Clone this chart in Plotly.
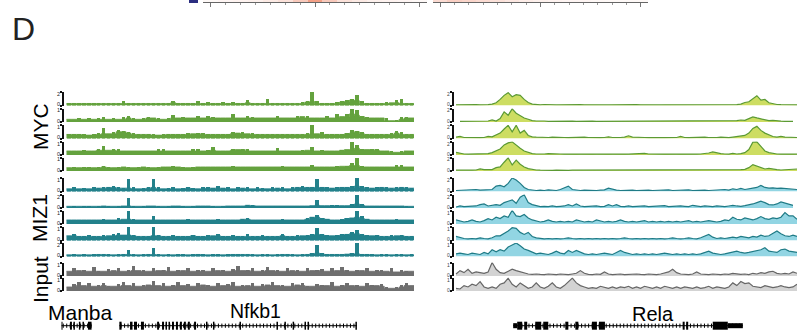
import numpy as np
import plotly.graph_objects as go

W, H = 797, 331

# ---------------------------------------------------------------
# ChIP-seq coverage across the Manba / Nfkb1 locus (2 kb bins)
# ---------------------------------------------------------------
nfkb1_myc_1 = [0.3, 0.3, 0.4, 0.3, 0.3, 0.4, 0.3, 0.3, 0.4, 0.3,
               0.4, 0.6, 0.3, 0.3, 0.4, 0.3, 0.3, 0.4, 0.3, 0.3,
               0.4, 0.7, 0.4, 0.3, 0.3, 0.4, 0.6, 0.3, 0.5, 0.3,
               0.3, 0.5, 0.3, 0.5, 0.3, 0.4, 0.8, 0.4, 0.3, 0.4,
               0.9, 0.3, 0.3, 0.4, 0.3, 0.4, 0.3, 0.5, 0.7, 2.0,
               0.6, 0.3, 0.4, 0.3, 0.5, 0.6, 0.8, 1.0, 1.5, 0.7,
               0.3, 0.3, 0.4, 0.3, 0.5, 0.4, 0.8, 0.9, 0.3, 0.3]
nfkb1_myc_2 = [0.2, 0.2, 0.3, 0.2, 0.3, 0.2, 0.3, 0.4, 0.2, 0.3,
               0.2, 0.4, 0.45, 0.3, 0.2, 0.3, 0.4, 0.3, 0.3, 0.2,
               0.3, 0.55, 0.3, 0.4, 0.3, 0.3, 0.5, 0.3, 0.5, 0.4,
               0.3, 0.3, 0.3, 0.6, 0.3, 0.3, 0.5, 0.4, 0.3, 0.3,
               0.3, 0.3, 0.45, 0.3, 0.3, 0.3, 0.5, 0.4, 0.5, 0.3,
               0.3, 0.3, 0.5, 0.3, 0.6, 0.4, 0.6, 1.0, 0.9, 0.5,
               0.4, 0.3, 0.3, 0.3, 0.3, 0.1, 0.2, 0.4, 0.4, 0.3]
nfkb1_myc_3 = [0.3, 0.35, 0.3, 0.3, 0.25, 0.3, 0.4, 0.8, 0.35, 0.5,
               0.6, 0.55, 0.5, 0.4, 0.3, 0.3, 0.35, 0.3, 0.25, 0.3,
               0.3, 0.3, 0.35, 0.3, 0.4, 0.35, 0.4, 0.4, 0.3, 0.3,
               0.3, 0.3, 0.35, 0.45, 0.4, 0.45, 0.35, 0.4, 0.3, 0.3,
               0.35, 0.3, 0.3, 0.35, 0.3, 0.3, 0.35, 0.3, 0.4, 1.0,
               0.35, 0.5, 0.3, 0.3, 0.3, 0.35, 0.4, 0.6, 0.55, 0.5,
               0.35, 0.3, 0.3, 0.35, 0.3, 0.4, 0.55, 0.5, 0.3, 0.3]
nfkb1_myc_4 = [0.3, 0.35, 0.3, 0.4, 0.3, 0.35, 0.5, 0.7, 0.35, 0.5,
               0.45, 0.3, 0.35, 0.3, 0.35, 0.3, 0.3, 0.3, 0.5, 0.45,
               0.3, 0.3, 0.35, 0.3, 0.3, 0.5, 0.45, 0.3, 0.4, 0.6,
               0.35, 0.3, 0.35, 0.5, 0.4, 0.5, 0.45, 0.3, 0.35, 0.3,
               0.3, 0.3, 0.55, 0.3, 0.35, 0.3, 0.3, 0.4, 0.35, 0.65,
               0.3, 0.4, 0.35, 0.3, 0.35, 0.4, 0.4, 1.0, 0.8, 0.5,
               0.4, 0.5, 0.45, 0.35, 0.3, 0.3, 0.2, 0.3, 0.35, 0.3]
nfkb1_myc_5 = [0.25, 0.3, 0.25, 0.3, 0.35, 0.25, 0.3, 0.4, 0.3, 0.25,
               0.35, 0.3, 0.3, 0.25, 0.3, 0.35, 0.3, 0.25, 0.3, 0.35,
               0.3, 0.4, 0.3, 0.3, 0.25, 0.35, 0.3, 0.3, 0.35, 0.3,
               0.3, 0.35, 0.3, 0.4, 0.3, 0.3, 0.35, 0.3, 0.3, 0.3,
               0.35, 0.3, 0.3, 0.4, 0.3, 0.3, 0.35, 0.3, 0.35, 0.5,
               0.3, 0.35, 0.3, 0.3, 0.4, 0.35, 0.4, 0.6, 1.0, 0.4,
               0.3, 0.3, 0.35, 0.3, 0.3, 0.3, 0.45, 0.45, 0.3, 0.3]
nfkb1_miz1_1 = [0.2, 0.3, 0.2, 0.25, 0.2, 0.3, 0.25, 0.3, 0.35, 0.4,
                0.3, 0.25, 0.9, 0.3, 0.2, 0.25, 0.3, 0.9, 0.3, 0.2,
                0.25, 0.3, 0.2, 0.25, 0.3, 0.25, 0.2, 0.3, 0.35, 0.25,
                0.4, 0.25, 0.3, 0.2, 0.3, 0.25, 0.3, 0.2, 0.3, 0.25,
                0.2, 0.3, 0.25, 0.3, 0.2, 0.3, 0.3, 0.4, 0.35, 0.3,
                0.95, 0.35, 0.3, 0.25, 0.3, 0.35, 0.3, 0.4, 1.0, 0.4,
                0.3, 0.25, 0.3, 0.35, 0.3, 0.25, 0.3, 0.35, 0.3, 0.25]
nfkb1_miz1_2 = [0.25, 0.3, 0.25, 0.3, 0.3, 0.25, 0.3, 0.35, 0.3, 0.25,
                0.3, 0.35, 1.6, 0.3, 0.25, 0.3, 0.4, 0.35, 0.3, 0.25,
                0.3, 0.3, 0.35, 0.3, 0.25, 0.3, 0.3, 0.35, 0.3, 0.3,
                0.25, 0.3, 0.35, 0.3, 0.3, 0.4, 0.5, 0.55, 0.35, 0.3,
                0.3, 0.35, 0.4, 0.3, 0.3, 0.35, 0.3, 0.3, 0.35, 0.4,
                1.2, 0.4, 0.35, 0.5, 0.5, 0.35, 0.4, 0.6, 2.0, 0.6,
                0.4, 0.3, 0.35, 0.3, 0.3, 0.35, 0.4, 0.3, 0.3, 0.25]
nfkb1_miz1_3 = [0.3, 0.35, 0.3, 0.3, 0.35, 0.3, 0.35, 0.4, 0.3, 0.3,
                0.5, 0.35, 1.0, 0.4, 0.3, 0.35, 0.3, 0.6, 0.35, 0.3,
                0.35, 0.3, 0.3, 0.35, 0.4, 0.3, 0.35, 0.3, 0.35, 0.3,
                0.4, 0.3, 0.35, 0.3, 0.35, 0.4, 0.45, 0.35, 0.3, 0.3,
                0.35, 0.3, 0.35, 0.4, 0.3, 0.35, 0.3, 0.35, 0.5, 0.55,
                0.7, 0.5, 0.4, 0.35, 0.3, 0.4, 0.45, 0.5, 1.0, 0.6,
                0.4, 0.35, 0.3, 0.35, 0.3, 0.35, 0.4, 0.3, 0.35, 0.3]
nfkb1_miz1_4 = [0.35, 0.5, 0.35, 0.3, 0.4, 0.35, 0.3, 0.4, 0.35, 0.5,
                0.55, 0.4, 1.0, 0.4, 0.35, 0.3, 0.35, 1.0, 0.4, 0.35,
                0.3, 0.4, 0.35, 0.3, 0.35, 0.4, 0.35, 0.3, 0.4, 0.35,
                0.45, 0.35, 0.3, 0.4, 0.35, 0.3, 0.45, 0.35, 0.3, 0.4,
                0.35, 0.3, 0.35, 0.45, 0.35, 0.3, 0.4, 0.35, 0.4, 0.5,
                0.9, 0.45, 0.4, 0.35, 0.4, 0.45, 0.5, 0.6, 0.75, 0.5,
                0.4, 0.35, 0.4, 0.35, 0.3, 0.4, 0.35, 0.4, 0.35, 0.3]
nfkb1_miz1_5 = [0.25, 0.3, 0.25, 0.3, 0.25, 0.3, 0.3, 0.35, 0.3, 0.25,
                0.3, 0.3, 1.0, 0.3, 0.25, 0.3, 0.3, 1.3, 0.3, 0.25,
                0.3, 0.25, 0.3, 0.3, 0.25, 0.3, 0.35, 0.3, 0.25, 0.3,
                0.3, 0.25, 0.3, 0.35, 0.3, 0.3, 0.4, 0.3, 0.25, 0.3,
                0.3, 0.25, 0.3, 0.35, 0.3, 0.3, 0.25, 0.3, 0.4, 0.5,
                1.7, 0.5, 0.35, 0.3, 0.3, 0.35, 0.4, 0.5, 2.0, 0.4,
                0.3, 0.3, 0.25, 0.3, 0.3, 0.25, 0.3, 0.3, 0.25, 0.3]
nfkb1_input_1 = [0.35, 0.6, 0.4, 0.5, 0.35, 0.7, 0.4, 0.35, 0.55, 0.4,
                 0.6, 0.35, 0.45, 0.8, 0.4, 0.5, 0.35, 0.6, 0.4, 0.45,
                 0.7, 0.35, 0.5, 0.4, 0.6, 0.35, 0.5, 0.45, 0.35, 0.65,
                 0.4, 0.5, 0.35, 0.55, 0.8, 0.4, 0.45, 0.6, 0.35, 0.5,
                 0.7, 0.4, 0.45, 0.35, 0.6, 0.4, 0.5, 0.35, 0.65, 0.4,
                 0.5, 0.55, 0.35, 0.6, 0.4, 0.7, 0.45, 0.35, 0.5, 0.4,
                 0.6, 0.35, 0.5, 0.45, 0.35, 0.6, 0.3, 0.5, 0.4, 0.35]
nfkb1_input_2 = [0.3, 0.55, 0.7, 0.4, 0.6, 0.35, 0.5, 0.65, 0.4, 0.35,
                 0.55, 0.7, 0.4, 0.6, 0.35, 0.5, 0.45, 0.8, 0.4, 0.6,
                 0.35, 0.5, 0.7, 0.4, 0.55, 0.35, 0.6, 0.45, 0.5, 0.35,
                 0.65, 0.4, 0.55, 0.7, 0.35, 0.5, 0.4, 0.6, 0.35, 0.55,
                 0.45, 0.7, 0.4, 0.5, 0.35, 0.6, 0.45, 0.65, 0.4, 0.35,
                 0.55, 0.5, 0.4, 0.7, 0.35, 0.5, 0.6, 0.4, 0.45, 0.35,
                 0.6, 0.5, 0.4, 0.55, 0.35, 0.2, 0.3, 0.5, 0.6, 0.4]

# ---------------------------------------------------------------
# ChIP-seq coverage across the Rela locus (0.4 kb steps)
# ---------------------------------------------------------------
rela_myc_1 = [0.1, 0.12, 0.1, 0.08, 0.1, 0.12, 0.1, 0.08, 0.12, 0.2,
              0.4, 0.9, 1.5, 1.9, 1.3, 1.6, 1.5, 0.9, 0.45, 0.2,
              0.12, 0.1, 0.15, 0.1, 0.12, 0.08, 0.1, 0.12, 0.1, 0.08,
              0.1, 0.12, 0.1, 0.08, 0.1, 0.1, 0.12, 0.1, 0.08, 0.1,
              0.12, 0.1, 0.1, 0.08, 0.1, 0.12, 0.1, 0.08, 0.1, 0.12,
              0.1, 0.08, 0.1, 0.1, 0.12, 0.1, 0.08, 0.1, 0.12, 0.1,
              0.08, 0.1, 0.12, 0.1, 0.1, 0.08, 0.1, 0.12, 0.1, 0.15,
              0.12, 0.2, 0.45, 0.55, 1.0, 1.45, 0.8, 0.9, 0.4, 0.25,
              0.15, 0.12, 0.1, 0.12, 0.1, 0.1]
rela_myc_2 = [None, 0.1, 0.12, 0.1, 0.1, 0.12, 0.15, 0.12, 0.15, 0.3,
              0.15, 0.5, 1.5, 1.0, 1.95, 1.3, 0.9, 0.6, 0.4, 0.2,
              0.15, 0.2, 0.15, 0.1, 0.12, 0.1, 0.12, 0.15, 0.1, 0.12,
              0.1, 0.12, 0.1, 0.2, 0.12, 0.1, 0.1, 0.12, 0.1, 0.12,
              0.1, 0.12, 0.1, 0.1, 0.15, 0.1, 0.12, 0.1, 0.1, 0.12,
              0.1, 0.12, 0.15, 0.1, 0.1, 0.12, 0.1, 0.1, 0.12, 0.1,
              0.12, 0.1, 0.1, 0.15, 0.1, 0.12, 0.1, 0.15, 0.12, 0.15,
              0.2, 0.3, 0.25, 0.5, 0.75, 0.6, 0.5, 0.3, 0.2, 0.25,
              0.15, 0.12, 0.1, 0.12, 0.1, None]
rela_myc_3 = [0.2, 0.3, 0.15, 0.12, 0.2, 0.15, 0.12, 0.15, 0.3, 0.25,
              0.5, 0.8, 1.4, 1.95, 1.0, 1.95, 0.8, 1.2, 0.45, 0.25,
              0.2, 0.15, 0.12, 0.15, 0.2, 0.15, 0.12, 0.15, 0.12, 0.15,
              0.12, 0.15, 0.2, 0.15, 0.12, 0.15, 0.12, 0.15, 0.25, 0.15,
              0.12, 0.15, 0.2, 0.4, 0.2, 0.15, 0.12, 0.15, 0.12, 0.15,
              0.12, 0.15, 0.12, 0.15, 0.2, 0.15, 0.3, 0.15, 0.12, 0.15,
              0.12, 0.15, 0.2, 0.15, 0.12, 0.15, 0.2, 0.15, 0.12, 0.2,
              0.25, 0.3, 0.45, 0.8, 1.5, 1.8, 1.2, 0.8, 0.55, 0.3,
              0.2, 0.3, 0.2, 0.15, 0.12, 0.15]
rela_myc_4 = [0.4, 0.25, 0.15, 0.12, 0.15, 0.2, 0.15, 0.15, 0.2, 0.35,
              0.6, 0.9, 1.5, 1.8, 1.95, 1.4, 1.0, 0.6, 0.35, 0.2,
              0.15, 0.12, 0.15, 0.2, 0.15, 0.12, 0.15, 0.12, 0.15, 0.12,
              0.15, 0.12, 0.15, 0.2, 0.15, 0.12, 0.15, 0.12, 0.15, 0.12,
              0.15, 0.12, 0.15, 0.12, 0.15, 0.12, 0.2, 0.25, 0.15, 0.12,
              0.15, 0.12, 0.15, 0.12, 0.15, 0.12, 0.15, 0.12, 0.2, 0.15,
              0.12, 0.15, 0.2, 0.3, 0.45, 0.3, 0.2, 0.15, 0.12, 0.25,
              0.15, 0.2, 0.35, 0.8, 1.9, 1.95, 1.2, 0.6, 0.35, 0.2,
              0.15, 0.12, 0.15, 0.12, 0.15, 0.12]
rela_myc_5 = [0.12, 0.1, 0.12, 0.15, 0.12, 0.15, 0.3, 0.2, 0.15, 0.2,
              0.5, 0.6, 1.3, 1.95, 0.9, 1.6, 1.0, 0.6, 0.35, 0.2,
              0.15, 0.12, 0.15, 0.12, 0.1, 0.12, 0.15, 0.12, 0.1, 0.12,
              0.12, 0.1, 0.12, 0.15, 0.12, 0.1, 0.12, 0.1, 0.12, 0.1,
              0.12, 0.1, 0.12, 0.1, 0.12, 0.15, 0.12, 0.1, 0.12, 0.1,
              0.12, 0.1, 0.12, 0.1, 0.12, 0.1, 0.12, 0.15, 0.12, 0.1,
              0.12, 0.1, 0.12, 0.1, 0.12, 0.1, 0.12, 0.1, 0.15, 0.12,
              0.15, 0.2, 0.25, 0.5, 0.95, 0.7, 0.45, 0.3, 0.4, 0.25,
              0.2, 0.15, 0.2, 0.3, 0.25, 0.3]
rela_miz1_1 = [0.15, 0.2, 0.15, 0.2, 0.25, 0.3, 0.2, 0.25, 0.2, 0.3,
               0.8, 0.9, 0.7, 1.2, 2.0, 1.7, 1.2, 0.6, 0.3, 0.2,
               0.15, 0.2, 0.15, 0.25, 0.2, 0.15, 0.3, 0.5, 0.8, 0.3,
               0.2, 0.15, 0.2, 0.15, 0.2, 0.15, 0.2, 0.25, 0.5, 0.3,
               0.2, 0.15, 0.2, 0.15, 0.2, 0.15, 0.2, 0.15, 0.2, 0.15,
               0.2, 0.15, 0.2, 0.25, 0.15, 0.2, 0.15, 0.2, 0.25, 0.15,
               0.2, 0.15, 0.2, 0.15, 0.2, 0.25, 0.2, 0.3, 0.2, 0.4,
               0.3, 0.45, 0.3, 0.35, 0.5, 0.6, 0.9, 0.6, 0.5, 0.55,
               0.45, 0.5, 0.45, 0.35, 0.4, 0.3]
rela_miz1_2 = [0.15, 0.3, 0.2, 0.25, 0.2, 0.3, 0.5, 0.6, 0.3, 0.35,
               0.5, 0.4, 0.8, 1.0, 1.2, 0.7, 1.6, 1.95, 0.8, 0.5,
               0.3, 0.2, 0.25, 0.2, 0.3, 0.2, 0.25, 0.3, 0.5, 0.3,
               0.6, 0.3, 0.2, 0.25, 0.2, 0.3, 0.2, 0.25, 0.5, 0.3,
               0.5, 0.25, 0.2, 0.3, 0.2, 0.25, 0.2, 0.3, 0.2, 0.25,
               0.2, 0.25, 0.35, 0.2, 0.25, 0.2, 0.3, 0.25, 0.2, 0.4,
               0.25, 0.2, 0.3, 0.25, 0.2, 0.3, 0.25, 0.2, 0.3, 0.4,
               0.3, 0.25, 0.35, 0.45, 0.6, 0.8, 1.0, 0.8, 0.5, 0.45,
               0.6, 0.9, 0.7, 0.5, 0.4, None]
rela_miz1_3 = [0.3, 0.2, 0.15, 0.2, 0.3, 0.2, 0.15, 0.25, 0.4, 0.3,
               0.5, 0.4, 0.6, 0.5, 1.0, 0.6, 0.55, 0.7, 0.45, 0.3,
               0.2, 0.15, 0.2, 0.3, 0.2, 0.15, 0.2, 0.15, 0.2, 0.15,
               0.3, 0.2, 0.15, 0.2, 0.15, 0.3, 0.2, 0.15, 0.2, 0.15,
               0.2, 0.3, 0.2, 0.15, 0.2, 0.15, 0.2, 0.25, 0.15, 0.2,
               0.15, 0.2, 0.15, 0.2, 0.15, 0.2, 0.15, 0.2, 0.25, 0.15,
               0.2, 0.15, 0.2, 0.25, 0.2, 0.15, 0.2, 0.3, 0.25, 0.5,
               0.35, 0.3, 0.45, 0.35, 0.3, 0.4, 0.55, 0.4, 0.35, 0.45,
               0.4, 0.5, 0.85, 0.6, 0.6, 0.35]
rela_miz1_4 = [0.3, 0.2, 0.15, 0.12, 0.15, 0.12, 0.2, 0.15, 0.12, 0.2,
               0.35, 0.35, 0.5, 0.7, 0.95, 0.9, 0.6, 0.45, 0.6, 0.3,
               0.2, 0.15, 0.12, 0.15, 0.12, 0.15, 0.12, 0.15, 0.2, 0.15,
               0.12, 0.15, 0.12, 0.15, 0.12, 0.15, 0.12, 0.15, 0.12, 0.15,
               0.12, 0.15, 0.2, 0.15, 0.12, 0.15, 0.12, 0.15, 0.12, 0.15,
               0.12, 0.15, 0.12, 0.15, 0.2, 0.15, 0.12, 0.15, 0.2, 0.15,
               0.12, 0.2, 0.3, 0.45, 0.25, 0.15, 0.2, 0.15, 0.2, 0.25,
               0.2, 0.3, 0.25, 0.2, 0.3, 0.25, 0.4, 0.3, 0.35, 0.5,
               0.7, 0.5, 0.35, 0.3, 0.4, 0.3]
rela_miz1_5 = [0.2, 0.25, 0.2, 0.15, 0.25, 0.2, 0.15, 0.3, 0.2, 0.5,
               0.35, 0.5, 0.4, 0.7, 0.85, 1.0, 0.8, 0.55, 0.45, 0.3,
               0.2, 0.25, 0.2, 0.15, 0.25, 0.4, 0.25, 0.2, 0.45, 0.3,
               0.45, 0.3, 0.2, 0.15, 0.2, 0.15, 0.2, 0.25, 0.2, 0.15,
               0.3, 0.45, 0.3, 0.2, 0.15, 0.2, 0.15, 0.2, 0.15, 0.2,
               0.15, 0.2, 0.25, 0.2, 0.15, 0.2, 0.15, 0.2, 0.15, 0.2,
               0.15, 0.2, 0.3, 0.4, 0.25, 0.2, 0.15, 0.2, 0.25, 0.3,
               0.4, 0.3, 0.25, 0.3, 0.35, 0.45, 0.5, 0.65, 0.4, 0.35,
               0.3, 0.5, 0.55, 0.4, 0.35, 0.3]
rela_input_1 = [0.15, 0.4, 0.25, 0.5, 0.2, 0.3, 0.25, 0.2, 0.3, 1.0,
                0.5, 0.25, 0.2, 0.35, 0.5, 0.4, 0.3, 0.2, 0.15, 0.12,
                0.15, 0.12, 0.1, 0.15, 0.12, 0.1, 0.15, 0.12, 0.1, 0.15,
                0.2, 0.4, 0.2, 0.12, 0.1, 0.15, 0.12, 0.3, 0.15, 0.1,
                0.12, 0.15, 0.1, 0.12, 0.1, 0.15, 0.12, 0.1, 0.15, 0.12,
                0.1, 0.15, 0.2, 0.3, 0.5, 0.25, 0.15, 0.12, 0.1, 0.15,
                0.3, 0.15, 0.12, 0.1, 0.15, 0.12, 0.1, 0.15, 0.12, 0.2,
                0.15, 0.12, 0.15, 0.1, 0.2, 0.15, 0.25, 0.2, 0.3, 0.35,
                0.2, 0.15, 0.2, 0.15, 0.3, 0.2]
rela_input_2 = [0.2, 0.15, 0.4, 0.3, 0.5, 0.4, 0.7, 0.3, 0.2, 0.3,
                0.2, 0.5, 0.6, 0.95, 0.5, 0.3, 0.6, 0.4, 0.2, 0.3,
                0.6, 0.3, 0.2, 0.35, 0.6, 0.3, 0.2, 0.4, 0.7, 0.95,
                0.6, 0.4, 0.3, 0.2, 0.25, 0.2, 0.35, 0.25, 0.2, 0.3,
                0.2, 0.3, 0.25, 0.35, 0.2, 0.3, 0.2, 0.35, 0.25, 0.2,
                0.3, 0.2, 0.35, 0.25, 0.2, 0.3, 0.2, 0.3, 0.25, 0.2,
                0.3, 0.2, 0.25, 0.35, 0.2, 0.3, 0.25, 0.2, 0.3, 0.6,
                0.4, 0.7, 0.55, 0.6, 0.35, 0.3, 0.25, 0.4, 0.3, 0.25,
                0.3, 0.4, 0.3, 0.25, 0.3, 0.5]

# axis maximum of every track, top to bottom
nfkb1_ymax = [2, 1, 1, 1, 1, 1, 2, 1, 1, 2, 1, 1]
rela_ymax = [2, 2, 2, 2, 2, 2, 2, 1, 1, 1, 1, 1]

group_labels = ["MYC", "MIZ1", "Input"]

# gene models: [start, end] in kb from each locus start
manba_span = [-2.0, 10.1]
manba_exons = [[-2.0, -1.6], [1.4, 2.2], [2.8, 3.4], [5.0, 5.6],
               [6.45, 7.05], [8.65, 10.1]]
nfkb1_span = [21.3, 117.0]
nfkb1_exons = [[21.3, 22.2], [25.6, 26.6], [27.2, 28.4], [30.0, 31.2],
               [36.5, 37.3], [38.5, 39.3], [39.9, 40.5], [41.1, 41.7],
               [42.5, 43.3], [44.1, 44.9], [45.7, 46.5], [47.3, 48.1],
               [48.9, 49.7], [51.4, 52.2], [56.2, 56.8], [59.0, 59.6],
               [69.7, 70.3], [84.6, 85.2], [87.8, 88.4], [91.1, 91.7],
               [95.9, 96.5], [97.1, 97.7], [116.4, 117.0]]
rela_span = [5.7, 28.6]
rela_exons = [[6.1, 6.6], [6.8, 7.1], [7.9, 8.5], [8.7, 9.2], [10.9, 11.2],
              [11.9, 12.2], [13.55, 14.05], [14.25, 14.85], [22.6, 22.8],
              [22.95, 23.15], [25.6, 27.1]]
rela_utrs = [[5.7, 6.1], [27.1, 28.6]]

# heat strip values along the bottom edge of the panel above
strip_left = [0.05, 0.08, 0.1, 0.12, 0.18, 0.25, 0.45, 0.8, 0.45, 0.25,
              0.18, 0.12, 0.1, 0.08, 0.05]
strip_right = [0.3, 0.4, 0.35, 0.3, 0.25, 0.2, 0.15, 0.12, 0.1, 0.08,
               0.08, 0.06, 0.05, 0.05, 0.05]

nfkb1_tracks = [nfkb1_myc_1, nfkb1_myc_2, nfkb1_myc_3, nfkb1_myc_4, nfkb1_myc_5,
                nfkb1_miz1_1, nfkb1_miz1_2, nfkb1_miz1_3, nfkb1_miz1_4, nfkb1_miz1_5,
                nfkb1_input_1, nfkb1_input_2]
rela_tracks = [rela_myc_1, rela_myc_2, rela_myc_3, rela_myc_4, rela_myc_5,
               rela_miz1_1, rela_miz1_2, rela_miz1_3, rela_miz1_4, rela_miz1_5,
               rela_input_1, rela_input_2]

# ---------------------------------------------------------------
# layout geometry (pixels)
# ---------------------------------------------------------------
BASELINES = [105.5, 122, 138.5, 155, 171, 191.5, 208, 224, 240.5, 256.5, 276, 291]
TRACK_H = 13.5
LEFT_DOM = (64, 414)
LEFT_RANGE = (-1, 140)
LEFT_BIN = 2.0
RIGHT_DOM = (454, 797)
RIGHT_RANGE = (-0.2, 34.0)
RIGHT_STEP = 0.4
GENE_Y = 325.7
GENE_TOP = 318

FONT = "Liberation Sans, Arial, sans-serif"

left_style = {"MYC": "#64a23e", "MIZ1": "#23818b", "Input": "#6f6f6f"}
right_style = {"MYC": ("#5b9a34", "#cddd62"),
               "MIZ1": ("#1f7b86", "#92d5e3"),
               "Input": ("#666666", "#d3d3d3")}


def group_of(i):
    return "MYC" if i < 5 else ("MIZ1" if i < 10 else "Input")


def px_y(p):
    return 1 - p / H


fig = go.Figure()
layout = {}
annotations = []


def axis_names(n):
    xa = "x" if n == 1 else f"x{n}"
    ya = "y" if n == 1 else f"y{n}"
    xk = "xaxis" if n == 1 else f"xaxis{n}"
    yk = "yaxis" if n == 1 else f"yaxis{n}"
    return xa, ya, xk, yk


def set_track_axes(n, ymax, base, dom, rng, fsize, fcolor):
    xa, ya, xk, yk = axis_names(n)
    layout[xk] = dict(domain=[dom[0] / W, dom[1] / W], range=list(rng),
                      visible=False, anchor=ya, fixedrange=True)
    layout[yk] = dict(domain=[px_y(base), px_y(base - TRACK_H)], range=[0, ymax],
                      anchor=xa, tickmode="array", tickvals=[0, ymax],
                      showticklabels=False, ticks="outside", ticklen=2,
                      tickwidth=1.5, tickcolor="#111", showline=True,
                      linecolor="#111", linewidth=1.6, showgrid=False,
                      zeroline=False, fixedrange=True)
    # scale labels sit just inside the span of their own axis
    lab_x = (dom[0] - 3) / W
    for text, ypx in (("0", base - 1.5), (f"{ymax:g}", base - TRACK_H + 2)):
        annotations.append(dict(text=text, x=lab_x, y=px_y(ypx), xanchor="right",
                                yanchor="middle", borderpad=0,
                                font=dict(size=fsize, color=fcolor)))
    return xa, ya


n = 1
# Nfkb1 locus: coverage histogram — a solid floor (local minimum of the
# neighbouring bins) with a bar for every bin on top of it
for i, vals in enumerate(nfkb1_tracks):
    xa, ya = set_track_axes(n, nfkb1_ymax[i], BASELINES[i], LEFT_DOM, LEFT_RANGE,
                            5.5, "#222")
    c = left_style[group_of(i)]
    v = np.asarray(vals)
    floor = np.minimum(np.minimum(v, np.r_[v[0], v[:-1]]), np.r_[v[1:], v[-1]])
    edges = np.arange(len(v) + 1) * LEFT_BIN
    fig.add_trace(go.Scatter(x=edges, y=np.r_[floor, floor[-1]], mode="lines",
                             xaxis=xa, yaxis=ya, line=dict(color=c, width=0.8, shape="hv"),
                             fill="tozeroy", fillcolor=c,
                             hoverinfo="skip", showlegend=False))
    fig.add_trace(go.Bar(x=(np.arange(len(v)) + 0.5) * LEFT_BIN, y=v,
                         width=LEFT_BIN * 0.7, xaxis=xa, yaxis=ya,
                         marker=dict(color=c, line=dict(width=0)),
                         hoverinfo="skip", showlegend=False))
    n += 1

# Rela locus: smoothed coverage profile
for i, vals in enumerate(rela_tracks):
    xa, ya = set_track_axes(n, rela_ymax[i], BASELINES[i], RIGHT_DOM, RIGHT_RANGE,
                            5, "#444")
    lc, fc = right_style[group_of(i)]
    fig.add_trace(go.Scatter(x=np.arange(len(vals)) * RIGHT_STEP, y=vals,
                             mode="lines", xaxis=xa, yaxis=ya,
                             line=dict(color=lc, width=1.2),
                             fill="tozeroy", fillcolor=fc, connectgaps=False,
                             hoverinfo="skip", showlegend=False))
    n += 1

# ---------------------------------------------------------------
# gene models
# ---------------------------------------------------------------
shapes = []
gene_y_range = [-(H - GENE_Y), GENE_Y - GENE_TOP]


def add_gene_axis(n, dom, rng):
    xa, ya, xk, yk = axis_names(n)
    layout[xk] = dict(domain=[dom[0] / W, dom[1] / W], range=list(rng),
                      visible=False, anchor=ya, fixedrange=True)
    layout[yk] = dict(domain=[0, px_y(GENE_TOP)], range=gene_y_range,
                      visible=False, anchor=xa, fixedrange=True)
    return xa, ya


def add_gene(xa, ya, span, exons, utrs, step):
    fig.add_trace(go.Scatter(x=span, y=[0, 0], mode="lines", xaxis=xa, yaxis=ya,
                             line=dict(color="black", width=1),
                             hoverinfo="skip", showlegend=False))
    marks = np.arange(span[0] + step / 2, span[1], step)
    fig.add_trace(go.Scatter(x=marks, y=np.zeros(len(marks)), mode="markers",
                             xaxis=xa, yaxis=ya, hoverinfo="skip", showlegend=False,
                             marker=dict(symbol="line-ns", size=3,
                                         line=dict(color="black", width=1))))
    for a, b in exons:
        shapes.append(dict(type="rect", xref=xa, yref=ya, x0=a, x1=b, y0=-4, y1=4,
                           fillcolor="black", line=dict(width=0), layer="above"))
    for a, b in utrs:
        shapes.append(dict(type="rect", xref=xa, yref=ya, x0=a, x1=b, y0=-2.5, y1=2.5,
                           fillcolor="black", line=dict(width=0), layer="above"))


# left gene axis spans a wider pixel window at the same kb scale
kb_per_px = (LEFT_RANGE[1] - LEFT_RANGE[0]) / (LEFT_DOM[1] - LEFT_DOM[0])
lg_dom = (20, 420)
lg_rng = (LEFT_RANGE[0] - (LEFT_DOM[0] - lg_dom[0]) * kb_per_px,
          LEFT_RANGE[1] + (lg_dom[1] - LEFT_DOM[1]) * kb_per_px)
xa, ya = add_gene_axis(n, lg_dom, lg_rng)
add_gene(xa, ya, manba_span, manba_exons, [], 1.4)
add_gene(xa, ya, nfkb1_span, nfkb1_exons, [], 1.4)
n += 1
xa, ya = add_gene_axis(n, RIGHT_DOM, RIGHT_RANGE)
add_gene(xa, ya, rela_span, rela_exons, rela_utrs, 0.35)
n += 1

# ---------------------------------------------------------------
# heat strips with their axes along the top edge
# ---------------------------------------------------------------
for strip, dom in ((strip_left, (203, 427)), (strip_right, (433, 648))):
    xa, ya, xk, yk = axis_names(n)
    half = (len(strip) - 1) / 2
    fig.add_trace(go.Heatmap(z=[strip], x=np.arange(len(strip)) - half,
                             xaxis=xa, yaxis=ya, zmin=0, zmax=1, showscale=False,
                             colorscale=[[0, "#ffffff"], [1, "#f08868"]],
                             hoverinfo="skip"))
    layout[xk] = dict(domain=[dom[0] / W, dom[1] / W], range=[-half - 0.5, half + 0.5],
                      anchor=ya, showline=True, linecolor="#666", linewidth=1,
                      ticks="outside", tickmode="linear", tick0=0, dtick=7,
                      ticklen=4, tickcolor="#777", tickwidth=1,
                      showticklabels=False, showgrid=False, zeroline=False,
                      minor=dict(ticks="outside", dtick=1, ticklen=2,
                                 tickcolor="#999", tickwidth=1, showgrid=False),
                      fixedrange=True)
    layout[yk] = dict(domain=[px_y(2), 1], visible=False, anchor=xa, fixedrange=True)
    n += 1

shapes.append(dict(type="rect", xref="paper", yref="paper",
                   x0=189 / W, x1=198 / W, y0=px_y(3), y1=1,
                   fillcolor="#2b2e80", line=dict(width=0)))

# ---------------------------------------------------------------
# text labels
# ---------------------------------------------------------------
labels = [
    dict(text="D", x=23 / W, y=px_y(29.5), font=dict(size=32, color="#222")),
    dict(text=group_labels[0], x=40 / W, y=px_y(127), textangle=-90,
         font=dict(size=21, color="black")),
    dict(text=group_labels[1], x=40 / W, y=px_y(218), textangle=-90,
         font=dict(size=21, color="black")),
    dict(text=group_labels[2], x=40 / W, y=px_y(280), textangle=-90,
         font=dict(size=21, color="black")),
    dict(text="Manba", x=80 / W, y=px_y(312.5), font=dict(size=21, color="black")),
    dict(text="Nfkb1", x=255.5 / W, y=px_y(310.5), font=dict(size=19.5, color="black")),
    dict(text="Rela", x=653 / W, y=px_y(313.5), font=dict(size=20, color="black")),
]
for a in labels:
    a.update(xanchor="center", yanchor="middle")
annotations = labels + annotations
for a in annotations:
    a.update(xref="paper", yref="paper", showarrow=False)
    a["font"]["family"] = FONT

fig.update_layout(
    width=W, height=H, autosize=False,
    margin=dict(l=0, r=0, t=0, b=0, pad=0),
    paper_bgcolor="white", plot_bgcolor="rgba(0,0,0,0)",
    font=dict(family=FONT),
    showlegend=False, shapes=shapes, annotations=annotations,
    bargap=0, barmode="overlay",
    **layout)

fig.write_html("out.html", config={"displayModeBar": False})
